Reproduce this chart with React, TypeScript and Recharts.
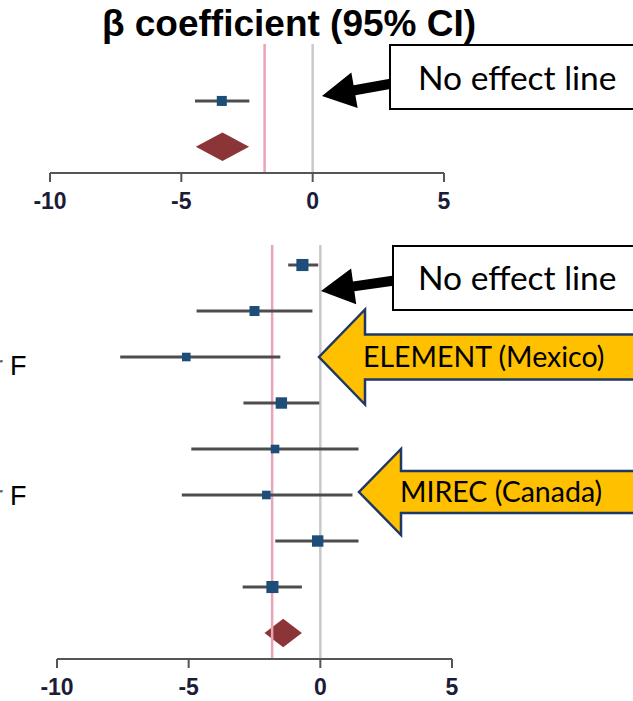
import React from "react";
import {
  ScatterChart,
  Scatter,
  XAxis,
  YAxis,
  ErrorBar,
  ReferenceLine,
  ReferenceArea,
} from "recharts";

const TICKS = [-10, -5, 0, 5];
const SUMMARY_LINE = -1.83;

// upper panel: one estimate + pooled diamond
const topEst = [-3.46];
const topLow = [-4.48];
const topHigh = [-2.41];
const topWeight = [10];
const topPooled = [-3.45, -4.45, -2.42]; // est, low, high

// lower panel: eight estimates + pooled diamond
const botEst = [-0.68, -2.5, -5.09, -1.48, -1.72, -2.05, -0.1, -1.82];
const botLow = [-1.22, -4.7, -7.6, -2.92, -4.9, -5.26, -1.71, -2.95];
const botHigh = [-0.08, -0.3, -1.52, -0.04, 1.45, 1.22, 1.45, -0.7];
const botWeight = [13, 10, 8, 12, 8, 8, 12, 13];
const botPooled = [-1.38, -2.12, -0.7];

const BLUE = "#1d4e7a";
const MAROON = "#8c3539";

function rows(est: number[], low: number[], high: number[], w: number[]) {
  return est.map((e, i) => ({
    x: e,
    row: i + 1,
    err: [e - low[i], high[i] - e],
    side: 3 + w[i] * 0.7,
  }));
}

const Square = (p: any) => {
  const s = p.payload.side;
  return <rect x={p.cx - s / 2} y={p.cy - s / 2} width={s} height={s} fill={BLUE} />;
};

const Diamond = (p: any) => {
  const { x, y, width, height } = p;
  const pts = [
    [x, y + height / 2],
    [x + width / 2, y],
    [x + width, y + height / 2],
    [x + width / 2, y + height],
  ];
  return <polygon points={pts.map((q) => q.join(",")).join(" ")} fill={MAROON} />;
};

const tickStyle = {
  fill: "#1c1c38",
  fontSize: 23,
  fontWeight: "bold",
  fontFamily: "Arial, 'Liberation Sans', sans-serif",
};

function Forest({
  data,
  pooled,
  pooledRow,
  height,
  margin,
  yDomain,
}: {
  data: any[];
  pooled: number[];
  pooledRow: number;
  height: number;
  margin: any;
  yDomain: [number, number];
}) {
  return (
    <ScatterChart width={633} height={height} margin={margin}>
      <XAxis
        type="number"
        dataKey="x"
        domain={[-10, 5]}
        ticks={TICKS}
        interval={0}
        height={40}
        tickSize={9}
        tickMargin={11}
        stroke="#555"
        strokeWidth={2}
        tick={tickStyle}
      />
      <YAxis type="number" dataKey="row" domain={yDomain} reversed hide allowDataOverflow />
      <ReferenceLine x={SUMMARY_LINE} stroke="#eaa3b7" strokeWidth={2.5} />
      <ReferenceLine x={0} stroke="#c9c9c9" strokeWidth={2.5} />
      <ReferenceArea
        x1={pooled[1]}
        x2={pooled[2]}
        y1={pooledRow - 0.31}
        y2={pooledRow + 0.31}
        ifOverflow="visible"
        shape={Diamond}
      />
      <Scatter data={data} shape={Square} isAnimationActive={false}>
        <ErrorBar dataKey="err" direction="x" width={0} stroke="#4d4d4d" strokeWidth={3} />
      </Scatter>
    </ScatterChart>
  );
}

function blockArrow(
  tail: number[],
  tip: number[],
  shaft: number,
  head: number,
  headLen: number
) {
  const dx = tip[0] - tail[0];
  const dy = tip[1] - tail[1];
  const L = Math.hypot(dx, dy);
  const ux = dx / L;
  const uy = dy / L;
  const px = -uy;
  const py = ux;
  const bx = tip[0] - ux * headLen;
  const by = tip[1] - uy * headLen;
  const pts = [
    [tail[0] + (px * shaft) / 2, tail[1] + (py * shaft) / 2],
    [bx + (px * shaft) / 2, by + (py * shaft) / 2],
    [bx + (px * head) / 2, by + (py * head) / 2],
    tip,
    [bx - (px * head) / 2, by - (py * head) / 2],
    [bx - (px * shaft) / 2, by - (py * shaft) / 2],
    [tail[0] - (px * shaft) / 2, tail[1] - (py * shaft) / 2],
  ];
  return pts.map((q) => q.join(",")).join(" ");
}

const calibri = "Lato, Carlito, Calibri, sans-serif";

export default function App() {
  const topData = rows(topEst, topLow, topHigh, topWeight);
  const botData = rows(botEst, botLow, botHigh, botWeight);

  return (
    <div style={{ position: "absolute", left: 0, top: 0, width: 633, height: 701, background: "#fff", overflow: "hidden" }}>
      <div style={{ position: "absolute", left: 0, top: 0 }}>
        <Forest
          data={topData}
          pooled={topPooled}
          pooledRow={2}
          height={230}
          margin={{ top: 44, right: 189, bottom: 17, left: 50 }}
          yDomain={[-0.24, 2.57]}
        />
      </div>
      <div style={{ position: "absolute", left: 0, top: 0 }}>
        <Forest
          data={botData}
          pooled={botPooled}
          pooledRow={9}
          height={701}
          margin={{ top: 245, right: 181, bottom: 2, left: 57 }}
          yDomain={[0.565, 9.565]}
        />
      </div>
      <svg
        width={633}
        height={701}
        style={{ position: "absolute", left: 0, top: 0, pointerEvents: "none" }}
      >
        <text
          x={289}
          y={36}
          textAnchor="middle"
          fontFamily="Arial, 'Liberation Sans', sans-serif"
          fontWeight="bold"
          fontSize={37}
          fill="#000"
        >
          β coefficient (95% CI)
        </text>

        <polygon points={blockArrow([395, 83], [322, 96], 10, 36, 33)} fill="#000" />
        <rect x={390} y={45} width={260} height={64} fill="#fff" stroke="#000" strokeWidth={2} />
        <text x={418} y={90} fontFamily={calibri} fontSize={33.5} fill="#000">
          No effect line
        </text>

        <polygon points={blockArrow([398, 280], [321, 291], 10, 36, 33)} fill="#000" />
        <rect x={393} y={246} width={260} height={64} fill="#fff" stroke="#000" strokeWidth={2} />
        <text x={418} y={290} fontFamily={calibri} fontSize={33.5} fill="#000">
          No effect line
        </text>

        <polygon
          points={blockArrow([660, 357], [319, 357], 45, 95, 46)}
          fill="#ffc000"
          stroke="#1f3864"
          strokeWidth={2.5}
        />
        <text x={363} y={367} fontFamily={calibri} fontSize={28.5} fill="#000">
          ELEMENT (Mexico)
        </text>

        <polygon
          points={blockArrow([660, 492], [359, 492], 42, 86, 42)}
          fill="#ffc000"
          stroke="#1f3864"
          strokeWidth={2.5}
        />
        <text x={400} y={502} fontFamily={calibri} fontSize={28.5} fill="#000">
          MIREC (Canada)
        </text>

        <g fontFamily="Arial, 'Liberation Sans', sans-serif" fontSize={27} fill="#000">
          <text x={3} y={375} textAnchor="end" fill="#666">r</text>
          <text x={10} y={375}>F</text>
          <text x={3} y={505} textAnchor="end" fill="#666">r</text>
          <text x={10} y={505}>F</text>
        </g>
      </svg>
    </div>
  );
}
